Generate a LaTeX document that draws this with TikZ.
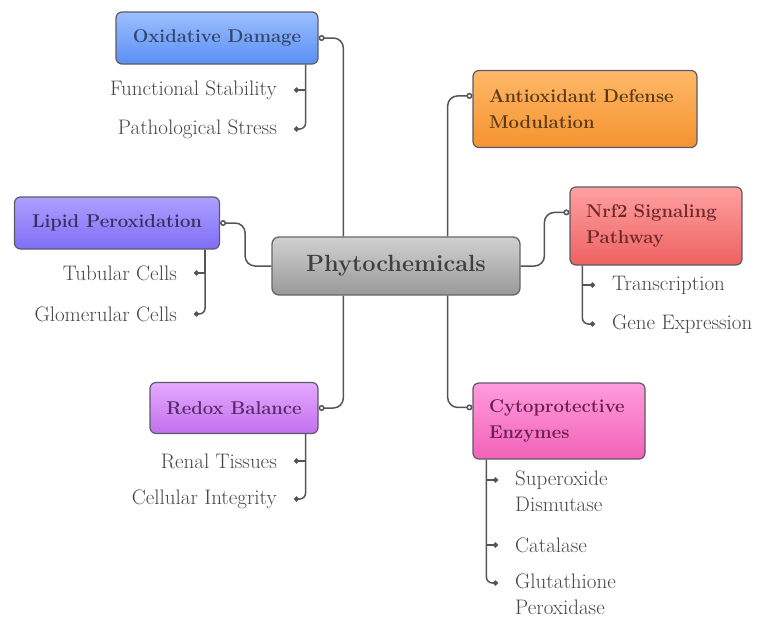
\documentclass[tikz,border=0pt]{standalone}
\usepackage{xcolor}
\usetikzlibrary{arrows.meta}

\definecolor{linegray}{HTML}{555555}
\definecolor{leafgray}{HTML}{454545}
\definecolor{edgegray}{HTML}{5A5A68}
\definecolor{oxtop}{HTML}{9CC0FF}
\definecolor{oxbot}{HTML}{5A8FF5}
\definecolor{oxtext}{HTML}{34466E}
\definecolor{lptop}{HTML}{ACA0FF}
\definecolor{lpbot}{HTML}{7F6EF5}
\definecolor{lptext}{HTML}{3A3060}
\definecolor{rbtop}{HTML}{E4AAFF}
\definecolor{rbbot}{HTML}{C270EE}
\definecolor{rbtext}{HTML}{5A2A6A}
\definecolor{adtop}{HTML}{FFB868}
\definecolor{adbot}{HTML}{F5932F}
\definecolor{adtext}{HTML}{5A3A18}
\definecolor{nrftop}{HTML}{FFA0A0}
\definecolor{nrfbot}{HTML}{EE6262}
\definecolor{nrftext}{HTML}{6E2A2A}
\definecolor{cytop}{HTML}{FF9CDC}
\definecolor{cybot}{HTML}{F262B8}
\definecolor{cytext}{HTML}{6A2050}

\begin{document}
\begin{tikzpicture}[x=1pt, y=-1pt,
    topic/.style={draw=edgegray, rounded corners=6pt, line width=1.2pt, inner xsep=16pt, inner ysep=0pt,
        font=\fontsize{18.5}{26}\selectfont\bfseries},
    hub/.style={draw=black!60, rounded corners=7pt, line width=1.3pt, top color=black!18, bottom color=black!40,
        text=black!75, font=\fontsize{23.5}{30}\selectfont\bfseries, minimum width=248pt, minimum height=58pt},
    leaf/.style={text=leafgray, font=\fontsize{21}{26}\selectfont, inner xsep=17pt, inner ysep=2pt},
    link/.style={draw=linegray, line width=1.5pt, rounded corners=10pt, {Circle[open, length=6pt, width=6pt]}-},
    twig/.style={draw=linegray, line width=1.5pt, -{Circle[length=5pt]}}]

    \useasboundingbox (0,0) rectangle (760,619);

    \node[hub] (ph) at (396,266) {Phytochemicals};

    % left side
    \node[topic, top color=oxtop, bottom color=oxbot, text=oxtext,
        minimum width=202pt, minimum height=52pt] (ox) at (217,38) {Oxidative Damage};
    \node[topic, top color=lptop, bottom color=lpbot, text=lptext,
        minimum width=205pt, minimum height=52pt] (lp) at (117,223) {Lipid Peroxidation};
    \node[topic, top color=rbtop, bottom color=rbbot, text=rbtext,
        minimum width=168pt, minimum height=51pt] (rb) at (234,408) {Redox Balance};

    % right side
    \node[topic, top color=adtop, bottom color=adbot, text=adtext,
        text width=192pt, align=left, minimum height=77pt] (ad) at (585,109) {Antioxidant Defense\\Modulation};
    \node[topic, top color=nrftop, bottom color=nrfbot, text=nrftext,
        text width=140pt, align=left, minimum height=78pt] (nrf) at (656,226) {Nrf2 Signaling\\Pathway};
    \node[topic, top color=cytop, bottom color=cybot, text=cytext,
        text width=140pt, align=left, minimum height=76pt] (cy) at (559,421) {Cytoprotective\\Enzymes};

    % leaves
    \node[leaf, anchor=east] (fs) at (294,90) {Functional Stability};
    \node[leaf, anchor=east] (ps) at (294,129) {Pathological Stress};
    \node[leaf, anchor=east] (tc) at (194,273) {Tubular Cells};
    \node[leaf, anchor=east] (gc) at (194,314) {Glomerular Cells};
    \node[leaf, anchor=east] (rt) at (294,461) {Renal Tissues};
    \node[leaf, anchor=east] (ci) at (294,499) {Cellular Integrity};
    \node[leaf, anchor=west] (tr) at (595,285) {Transcription};
    \node[leaf, anchor=west] (ge) at (595,324) {Gene Expression};
    \node[leaf, anchor=north west, align=left] (sd) at (498,469) {Superoxide\\Dismutase};
    \node[leaf, anchor=west] (ca) at (498,545) {Catalase};
    \node[leaf, anchor=north west, align=left] (gp) at (498,572) {Glutathione\\Peroxidase};

    % hub links
    \draw[link] (ox.east) -| ([xshift=72pt]ph.north west);
    \draw[link] (lp.east) -- ++(25,0) |- (ph.west);
    \draw[link] (rb.east) -| ([xshift=72pt]ph.south west);
    \draw[link] ([yshift=-26pt]ad.north west) -| ([xshift=-73pt]ph.north east);
    \draw[link] ([yshift=-26pt]nrf.north west) -- ++(-25,0) |- (ph.east);
    \draw[link] ([yshift=-25pt]cy.north west) -| ([xshift=-73pt]ph.south east);

    % leaf twigs
    \draw[twig] ([xshift=-13pt]ox.south east) |- (fs.east);
    \draw[twig, rounded corners=6pt] ([xshift=-13pt]ox.south east) |- (ps.east);
    \draw[twig] ([xshift=-15pt]lp.south east) |- (tc.east);
    \draw[twig, rounded corners=6pt] ([xshift=-15pt]lp.south east) |- (gc.east);
    \draw[twig] ([xshift=-13pt]rb.south east) |- (rt.east);
    \draw[twig, rounded corners=6pt] ([xshift=-13pt]rb.south east) |- (ci.east);
    \draw[twig] ([xshift=13pt]nrf.south west) |- (tr.west);
    \draw[twig, rounded corners=6pt] ([xshift=13pt]nrf.south west) |- (ge.west);
    \draw[twig] ([xshift=14pt]cy.south west) |- ([yshift=-11pt]sd.north west);
    \draw[twig] ([xshift=14pt]cy.south west) |- (ca.west);
    \draw[twig, rounded corners=6pt] ([xshift=14pt]cy.south west) |- ([yshift=-11pt]gp.north west);
\end{tikzpicture}
\end{document}
